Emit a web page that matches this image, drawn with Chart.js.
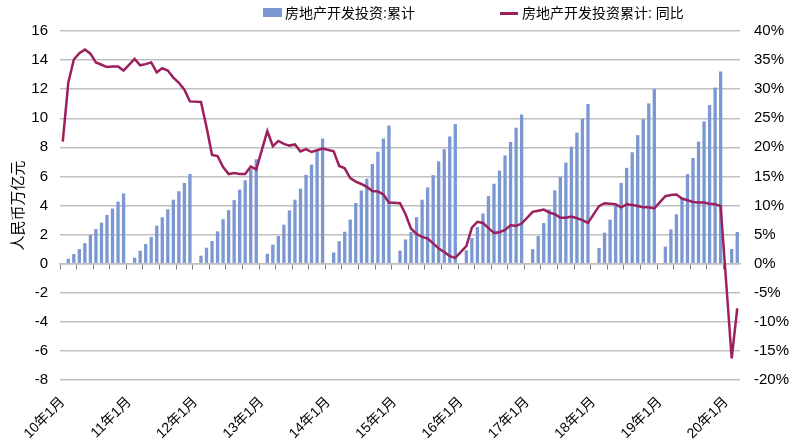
<!DOCTYPE html>
<html>
<head>
<meta charset="utf-8">
<script src="https://cdn.jsdelivr.net/npm/chart.js@4.4.0/dist/chart.umd.min.js"></script>
<style>
  body { margin: 0; background: #fff; }
  #wrap { position: relative; width: 797px; height: 448px; }
  .legend { position: absolute; top: 0; height: 26px; line-height: 26px; font-size: 14px; font-family: "Liberation Sans", "Noto Sans CJK SC", sans-serif; color: #000; white-space: nowrap; }
  .swatch { position: absolute; display: block; }
</style>
</head>
<body>
<div id="wrap">
  <canvas id="myChart" width="797" height="448"></canvas>
  <span class="swatch" style="left:263px;top:8px;width:19px;height:9px;background:#7b98d3"></span>
  <span class="legend" style="left:285px">房地产开发投资:累计</span>
  <span class="swatch" style="left:500px;top:12px;width:18px;height:3px;background:#9c1f5e"></span>
  <span class="legend" style="left:522px">房地产开发投资累计: 同比</span>
</div>
<script>
// Data: cumulative investment (万亿元), one array per year, Jan not published
const invest2010 = [null, 0.33, 0.66, 1.00, 1.41, 1.97, 2.38, 2.82, 3.35, 3.79, 4.27, 4.83];
const invest2011 = [null, 0.41, 0.89, 1.35, 1.83, 2.61, 3.19, 3.74, 4.40, 4.98, 5.55, 6.17];
const invest2012 = [null, 0.55, 1.10, 1.56, 2.22, 3.06, 3.68, 4.37, 5.09, 5.73, 6.50, 7.18];
const invest2013 = [null, 0.68, 1.31, 1.90, 2.68, 3.66, 4.40, 5.16, 6.11, 6.81, 7.80, 8.60];
const invest2014 = [null, 0.77, 1.54, 2.20, 3.03, 4.17, 5.03, 5.84, 6.86, 7.70, 8.61, 9.50];
const invest2015 = [null, 0.90, 1.66, 2.18, 3.20, 4.40, 5.24, 6.09, 7.04, 7.87, 8.75, 9.60];
const invest2016 = [null, 0.92, 1.76, 2.52, 3.45, 4.65, 5.50, 6.40, 7.45, 8.37, 9.35, 10.26];
const invest2017 = [null, 0.99, 1.90, 2.79, 3.73, 5.04, 5.96, 6.95, 8.05, 9.01, 9.99, 10.98];
const invest2018 = [null, 1.07, 2.13, 3.03, 4.00, 5.55, 6.59, 7.66, 8.84, 9.94, 11.02, 12.01];
const invest2019 = [null, 1.17, 2.36, 3.40, 4.45, 6.16, 7.27, 8.39, 9.78, 10.91, 12.11, 13.21];
const invest2020 = [null, 1.01, 2.18];

// YoY growth of cumulative investment (%)
const yoy2010 = [21.0, 31.1, 35.1, 36.2, 36.8, 36.1, 34.6, 34.2, 33.8, 33.9, 33.9, 33.2];
const yoy2011 = [null, 35.2, 34.1, 34.3, 34.6, 32.9, 33.6, 33.2, 32.0, 31.1, 29.9, 27.9];
const yoy2012 = [null, 27.8, 23.5, 18.7, 18.5, 16.6, 15.4, 15.6, 15.4, 15.4, 16.7, 16.2];
const yoy2013 = [null, 22.8, 20.2, 21.1, 20.6, 20.3, 20.5, 19.3, 19.7, 19.2, 19.5, 19.8];
const yoy2014 = [null, 19.3, 16.8, 16.4, 14.7, 14.1, 13.7, 13.2, 12.5, 12.4, 11.9, 10.5];
const yoy2015 = [null, 10.4, 8.5, 6.0, 5.1, 4.6, 4.3, 3.5, 2.6, 2.0, 1.3, 1.0];
const yoy2016 = [null, 3.0, 6.2, 7.2, 7.0, 6.1, 5.3, 5.4, 5.8, 6.6, 6.5, 6.9];
const yoy2017 = [null, 8.9, 9.1, 9.3, 8.8, 8.5, 7.9, 7.9, 8.1, 7.8, 7.5, 7.0];
const yoy2018 = [null, 9.9, 10.4, 10.3, 10.2, 9.7, 10.2, 10.1, 9.9, 9.7, 9.7, 9.5];
const yoy2019 = [null, 11.6, 11.8, 11.9, 11.2, 10.9, 10.6, 10.5, 10.5, 10.3, 10.2, 9.9];
const yoy2020 = [null, -16.3, -7.7];

const leftTicks = [-8, -6, -4, -2, 0, 2, 4, 6, 8, 10, 12, 14, 16];
const rightTicks = [-20, -15, -10, -5, 0, 5, 10, 15, 20, 25, 30, 35, 40];

const invest = [].concat(invest2010, invest2011, invest2012, invest2013, invest2014, invest2015,
  invest2016, invest2017, invest2018, invest2019, invest2020);
const yoy = [].concat(yoy2010, yoy2011, yoy2012, yoy2013, yoy2014, yoy2015,
  yoy2016, yoy2017, yoy2018, yoy2019, yoy2020);

// month labels like 10年1月
const labels = [];
for (let i = 0; i < invest.length; i++) {
  const yy = 10 + Math.floor(i / 12);
  labels.push(`${yy}年${(i % 12) + 1}月`);
}

const barColor = '#7b98d3';
const lineColor = '#9c1f5e';
const gridColor = '#c0c0c0';

Chart.defaults.font.family = "'Liberation Sans', 'Noto Sans CJK SC', sans-serif";
Chart.defaults.font.size = 15;
Chart.defaults.color = '#000';

const ctx = document.getElementById('myChart').getContext('2d');
const myChart = new Chart(ctx, {
  type: 'bar',
  data: {
    labels: labels,
    datasets: [{
      type: 'line',
      label: '房地产开发投资累计: 同比',
      data: yoy,
      yAxisID: 'y1',
      xAxisID: 'x',
      borderColor: lineColor,
      backgroundColor: lineColor,
      borderWidth: 2.5,
      pointRadius: 0,
      spanGaps: true,
      tension: 0,
      order: 0
    }, {
      type: 'bar',
      label: '房地产开发投资:累计',
      data: invest,
      yAxisID: 'y',
      xAxisID: 'x',
      backgroundColor: barColor,
      barPercentage: 0.6,
      categoryPercentage: 1,
      order: 1
    }]
  },
  options: {
    responsive: false,
    animation: false,
    layout: { padding: { top: 31 } },
    plugins: {
      legend: { display: false },
      tooltip: { enabled: false }
    },
    scales: {
      x: {
        type: 'category',
        position: { y: 0 },
        offset: true,
        ticks: { display: false },
        grid: {
          offset: true,
          drawOnChartArea: false,
          tickLength: 5,
          lineWidth: 1,
          color: (c) => c.index % 3 === 0 ? '#808080' : 'rgba(0,0,0,0)'
        },
        border: { display: true, color: gridColor, width: 1.5 }
      },
      x2: {
        type: 'category',
        position: 'bottom',
        offset: true,
        grid: { display: false, drawTicks: false },
        border: { display: false },
        ticks: {
          autoSkip: false,
          maxRotation: 45,
          minRotation: 45,
          padding: 14,
          font: { size: 14 },
          callback: (v, i) => i % 12 === 0 ? labels[i] : null
        },
        afterFit: (s) => { s.height = 68; }
      },
      y: {
        position: 'left',
        min: -8,
        max: 16,
        afterBuildTicks: (s) => { s.ticks = leftTicks.map(v => ({ value: v })); },
        ticks: { padding: 12 },
        grid: { color: gridColor, lineWidth: 1.5, drawTicks: false },
        border: { display: false },
        title: {
          display: true,
          text: '人民币万亿元',
          font: { size: 15, family: "'Noto Sans CJK SC'" },
          padding: { top: 8 }
        },
        afterFit: (s) => { s.width = 60; }
      },
      y1: {
        position: 'right',
        min: -20,
        max: 40,
        afterBuildTicks: (s) => { s.ticks = rightTicks.map(v => ({ value: v })); },
        ticks: { padding: 14, callback: (v) => v + '%' },
        grid: { display: false, drawTicks: false },
        border: { display: false },
        afterFit: (s) => { s.width = 57; }
      }
    }
  }
});
</script>
</body>
</html>
